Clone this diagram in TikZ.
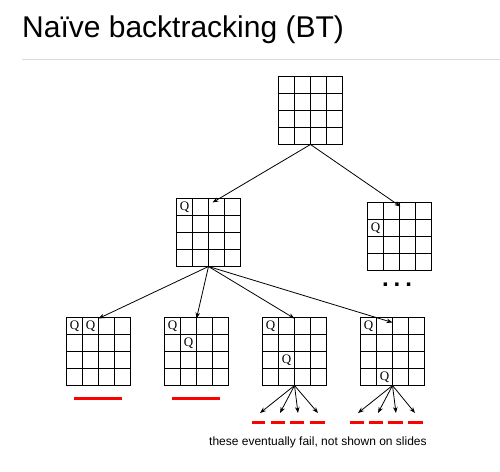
\documentclass[tikz,border=0pt]{standalone}
\usepackage{fontspec}
\setmainfont{Liberation Sans}
\newfontfamily\qfont{Liberation Serif}
\usetikzlibrary{calc,arrows.meta}
\tikzset{
  board/.style={draw=black, line width=1.2pt, minimum width=64pt, minimum height=68pt, inner sep=0pt, outer sep=0pt},
  gridline/.style={draw=black, line width=1.2pt},
  queen/.style={font=\qfont\fontsize{13}{13}\selectfont, inner sep=0pt},
  arr/.style={draw=black, line width=0.8pt, -{Stealth[length=6pt,width=4.5pt]}},
  fail/.style={draw=red, line width=3pt},
}
\newcommand{\drawgrid}[1]{%
  \foreach \i in {1,2,3}{%
    \draw[gridline] ($(#1.north west)!\i/4!(#1.north east)$) -- ($(#1.south west)!\i/4!(#1.south east)$);
    \draw[gridline] ($(#1.north west)!\i/4!(#1.south west)$) -- ($(#1.north east)!\i/4!(#1.south east)$);
  }}
% queen in column #2, row #3 of board #1
\newcommand{\putq}[4]{%
  \path let \p1=(#1.north west), \p2=(#1.south east) in
    node[queen] (#4) at ({\x1+(#2-0.5)*(\x2-\x1)/4}, {\y1+(#3-0.5)*(\y2-\y1)/4}) {Q};}
\begin{document}
\begin{tikzpicture}[x=1pt,y=-1pt]
\useasboundingbox (0,0) rectangle (500,471);
% title
\node[anchor=base west, inner sep=0pt, font=\fontsize{30}{30}\selectfont] (title) at (22,37) {Naïve backtracking (BT)};
\coordinate (sepL) at (22,59.5);
\coordinate (sepR) at (500,59.5);
\draw[draw=black!15, line width=1pt] (sepL) -- (sepR);

% boards
\node[board] (root) at (310.5,110.5) {};
\node[board] (L) at (208.5,232.5) {};
\node[board] (R) at (399.5,236.5) {};
\node[board] (b1) at (98.5,351.5) {};
\node[board] (b2) at (196.5,351.5) {};
\node[board] (b3) at (294.5,351.5) {};
\node[board] (b4) at (392.5,351.5) {};
\foreach \b in {root,L,R,b1,b2,b3,b4}{\drawgrid{\b}}

% queens
\putq{L}{1}{1}{qL}
\putq{R}{1}{2}{qR}
\putq{b1}{1}{1}{q1a}
\putq{b1}{2}{1}{q1b}
\putq{b2}{1}{1}{q2a}
\putq{b2}{2}{2}{q2b}
\putq{b3}{1}{1}{q3a}
\putq{b3}{2}{3}{q3b}
\putq{b4}{1}{1}{q4a}
\putq{b4}{2}{4}{q4b}

% dots
\node[anchor=base, inner sep=0pt, font=\bfseries\fontsize{24}{24}\selectfont] (dots) at (397,286) {.\kern5pt.\kern5pt.};

% arrows
\draw[arr] (root.south) -- ([xshift=4pt,yshift=-4pt]L.north);
\draw[arr] (root.south) -- ([xshift=1pt,yshift=-4pt]R.north);
\draw[arr] (L.south) -- ([yshift=-1pt]b1.north);
\draw[arr] (L.south) -- ([yshift=-1pt]b2.north);
\draw[arr] (L.south) -- ([yshift=-1pt]b3.north);
\draw[arr] (L.south) -- ([yshift=-5pt]b4.north);

% bottom small arrows
\foreach \n/\x in {c1/260,c2/280,c3/298,c4/318}{\coordinate (\n) at (\x,413);}
\foreach \n/\x in {d1/358,d2/378,d3/396,d4/415}{\coordinate (\n) at (\x,413);}
\foreach \n in {c1,c2,c3,c4}{\draw[arr] (b3.south) -- (\n);}
\foreach \n in {d1,d2,d3,d4}{\draw[arr] (b4.south) -- (\n);}

% red fail lines
\coordinate (f1a) at (74,398); \coordinate (f1b) at (122,398);
\coordinate (f2a) at (172,398); \coordinate (f2b) at (220,398);
\draw[fail] (f1a) -- (f1b);
\draw[fail] (f2a) -- (f2b);
\foreach \a/\bb [count=\k] in {252/265,271/285,290/304,310/325,350/364,369/383,388/403,408/423}{
  \coordinate (ga\k) at (\a,422); \coordinate (gb\k) at (\bb,422);
  \draw[fail] (ga\k) -- (gb\k);
}

% caption
\node[anchor=base west, inner sep=0pt, font=\fontsize{12}{12}\selectfont] (cap) at (209,445) {these eventually fail, not shown on slides};
\end{tikzpicture}
\end{document}
